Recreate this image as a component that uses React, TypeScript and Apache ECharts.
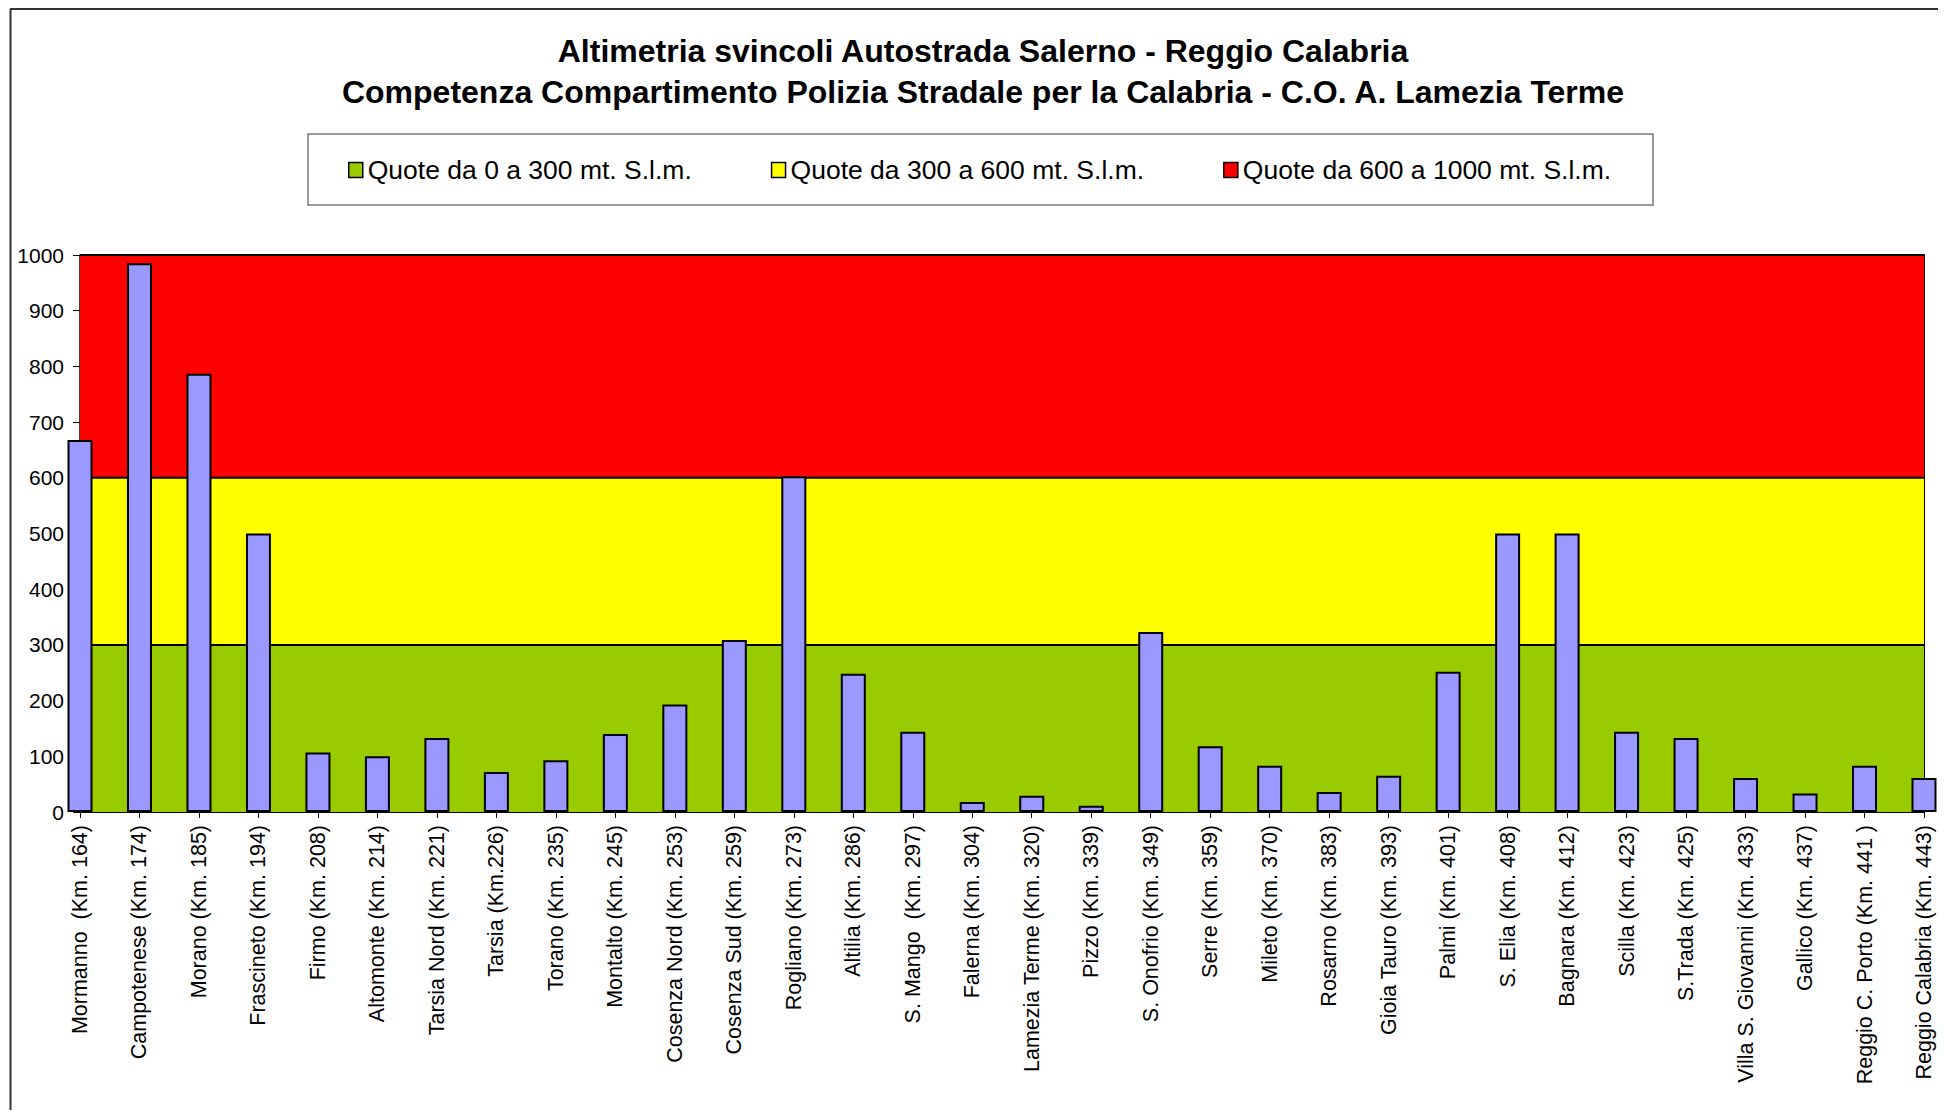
import React, { useEffect, useRef } from "react";
import * as echarts from "echarts";

const titleLines = [
  "Altimetria svincoli Autostrada Salerno - Reggio Calabria",
  "Competenza Compartimento Polizia Stradale per la Calabria - C.O. A. Lamezia Terme",
];

const categories = [
  "Mormanno  (Km. 164)",
  "Campotenese (Km. 174)",
  "Morano (Km. 185)",
  "Frascineto (Km. 194)",
  "Firmo (Km. 208)",
  "Altomonte (Km. 214)",
  "Tarsia Nord (Km. 221)",
  "Tarsia (Km.226)",
  "Torano (Km. 235)",
  "Montalto (Km. 245)",
  "Cosenza Nord (Km. 253)",
  "Cosenza Sud (Km. 259)",
  "Rogliano (Km. 273)",
  "Altilia (Km. 286)",
  "S. Mango  (Km. 297)",
  "Falerna (Km. 304)",
  "Lamezia Terme (Km. 320)",
  "Pizzo (Km. 339)",
  "S. Onofrio (Km. 349)",
  "Serre (Km. 359)",
  "Mileto (Km. 370)",
  "Rosarno (Km. 383)",
  "Gioia Tauro (Km. 393)",
  "Palmi (Km. 401)",
  "S. Elia (Km. 408)",
  "Bagnara (Km. 412)",
  "Scilla (Km. 423)",
  "S.Trada (Km. 425)",
  "Villa S. Giovanni (Km. 433)",
  "Gallico (Km. 437)",
  "Reggio C. Porto (Km. 441 )",
  "Reggio Calabria (Km. 443)",
];

const altitudes = [
  668, 985, 787, 500, 107, 100, 133, 72, 93, 140, 193, 309, 603, 248, 144, 18,
  29, 11, 323, 118, 83, 36, 65, 252, 500, 500, 144, 133, 61, 33, 83, 61,
];

const bandNames = [
  "Quote da 0 a 300 mt. S.l.m.",
  "Quote da 300 a 600 mt. S.l.m.",
  "Quote da 600 a 1000 mt. S.l.m.",
];
const bandTops = [300, 600, 1000];
const bandColors = ["#99CC00", "#FFFF00", "#FF0000"];

const yMin = 0;
const yMax = 1000;
const yInterval = 100;

export default function App() {
  const ref = useRef<HTMLDivElement>(null);

  useEffect(() => {
    const chart = echarts.init(ref.current!, null, { renderer: "svg" });
    const font = "'Liberation Sans', Arial, Helvetica, sans-serif";

    // draw top band first so lower bands (and their top lines) sit above
    const bandSeries = [2, 1, 0].map((i) => ({
      name: bandNames[i],
      type: "line",
      symbol: "none",
      silent: true,
      data: categories.map(() => bandTops[i]),
      lineStyle: { color: "#000", width: 2 },
      itemStyle: { color: bandColors[i] },
      areaStyle: { color: bandColors[i], opacity: 1 },
      z: 2 + (2 - i),
    }));

    chart.setOption({
      animation: false,
      backgroundColor: "#fff",
      grid: { left: 72, top: 247, width: 1844, height: 557, containLabel: false },
      legend: {
        data: bandNames.map((n, i) => ({
          name: n,
          itemStyle: { color: bandColors[i], borderColor: "#000", borderWidth: 1.5 },
        })),
        icon: "rect",
        itemWidth: 14,
        itemHeight: 15,
        itemGap: 79,
        left: 340,
        top: 147,
        padding: 0,
        selectedMode: false,
        textStyle: { fontFamily: font, fontSize: 26.5, color: "#000", lineHeight: 30 },
      },
      xAxis: {
        type: "category",
        data: categories,
        boundaryGap: false,
        axisLine: { show: true, lineStyle: { color: "#000", width: 2 } },
        axisTick: { show: true, length: 6, alignWithLabel: true, lineStyle: { color: "#000", width: 1 } },
        axisLabel: {
          interval: 0,
          rotate: 90,
          margin: 13,
          fontFamily: font,
          fontSize: 21.5,
          color: "#000",
        },
        splitLine: { show: false },
      },
      yAxis: [
        {
          type: "value",
          min: yMin,
          max: yMax,
          interval: yInterval,
          axisLine: { show: true, lineStyle: { color: "#000", width: 1.5 } },
          axisTick: { show: true, length: 7, lineStyle: { color: "#000", width: 1 } },
          axisLabel: {
            margin: 16,
            fontFamily: font,
            fontSize: 21,
            color: "#000",
            formatter: (v: number) => String(v),
          },
          splitLine: { show: false },
        },
        {
          type: "value",
          min: yMin,
          max: yMax,
          interval: yInterval,
          position: "right",
          axisLine: { show: true, lineStyle: { color: "#000", width: 2 } },
          axisTick: { show: false },
          axisLabel: { show: false },
          splitLine: { show: false },
        },
      ],
      series: [
        ...bandSeries,
        {
          name: "Quota",
          type: "bar",
          data: altitudes,
          barWidth: 25,
          clip: true,
          z: 10,
          itemStyle: { color: "#9999FF", borderColor: "#000", borderWidth: 2 },
        },
      ],
      graphic: [
        {
          type: "rect",
          z: 0,
          shape: { x: 300, y: 126, width: 1345, height: 71 },
          style: { fill: "#fff", stroke: "#777", lineWidth: 1.5 },
        },
        {
          type: "text",
          x: 975,
          y: 43,
          style: {
            text: titleLines[0],
            fontFamily: font,
            fontSize: 32,
            fontWeight: "bold",
            fill: "#000",
            align: "center",
            verticalAlign: "middle",
          },
        },
        {
          type: "text",
          x: 975,
          y: 84,
          style: {
            text: titleLines[1],
            fontFamily: font,
            fontSize: 32,
            fontWeight: "bold",
            fill: "#000",
            align: "center",
            verticalAlign: "middle",
          },
        },
        {
          type: "line",
          shape: { x1: 2.5, y1: 1, x2: 2.5, y2: 1102 },
          style: { stroke: "#333", lineWidth: 2 },
        },
        {
          type: "line",
          shape: { x1: 2, y1: 1, x2: 1930, y2: 1 },
          style: { stroke: "#333", lineWidth: 2 },
        },
      ],
    });

    return () => chart.dispose();
  }, []);

  return <div ref={ref} style={{ width: 1930, height: 1102 }} />;
}
